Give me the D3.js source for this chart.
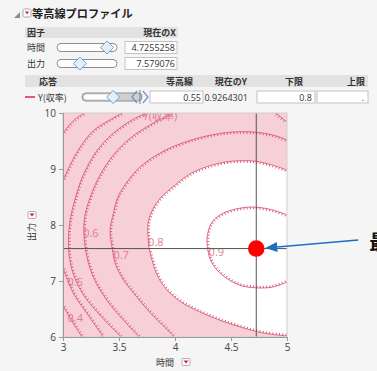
<!DOCTYPE html>
<html><head><meta charset="utf-8">
<script src="https://cdn.jsdelivr.net/npm/d3@7"></script>
<style>
html,body{margin:0;padding:0;background:#f5f5f5;}
svg{display:block;font-family:"Noto Sans CJK JP","Open Sans",sans-serif;}
</style></head><body>
<svg id="chart" width="377" height="371"></svg>
<script>
// ---- factor table ----
const factorNames = ["時間", "出力"];
const factorValues = [4.7255258, 7.579076];
const factorDomains = [[3, 5], [6, 10]];

// ---- response table ----
const responseHeaders = ["応答", "等高線", "現在のY", "下限", "上限"];
const responseName = "Y(収率)";
const contourValue = 0.55;
const currentY = 0.9264301;
const lowerLimit = 0.8;
const upperLimitText = ".";
const responseRange = [0.26, 0.875];

// ---- axes ----
const xTicks = [3, 3.5, 4, 4.5, 5];
const yTicks = [6, 7, 8, 9, 10];
const xDomain = [3, 5];
const yDomain = [6, 10];

// ---- contour lines, points as [時間, 出力] ----
const c040a = [[3.19,10.0],[3.09,9.86],[3.00,9.64]];
const c040b = [[3.00,6.55],[3.09,6.25],[3.17,6.00]];
const c050a = [[3.53,10.0],[3.42,9.88],[3.27,9.68],[3.13,9.32],[3.00,8.80]];
const c050b = [[3.00,7.23],[3.09,6.79],[3.21,6.43],[3.36,6.00]];
const c055  = [[3.75,10.0],[3.62,9.88],[3.45,9.64],[3.30,9.32],[3.18,8.89],[3.11,8.48],[3.06,8.04],[3.05,7.57],[3.08,7.20],[3.17,6.79],[3.33,6.39],[3.52,6.00]];
const c060a = [[3.98,10.0],[3.78,9.79],[3.60,9.55],[3.45,9.25],[3.33,8.89],[3.24,8.48],[3.19,8.09],[3.20,7.57],[3.27,7.07],[3.39,6.66],[3.54,6.30],[3.68,6.00]];
const c060b = [[4.90,10.0],[5.00,9.84]];
const c070  = [[5.00,9.52],[4.87,9.61],[4.71,9.66],[4.51,9.66],[4.33,9.61],[4.15,9.52],[3.97,9.39],[3.82,9.23],[3.69,9.04],[3.58,8.79],[3.49,8.50],[3.45,8.21],[3.42,7.91],[3.44,7.57],[3.47,7.29],[3.54,7.02],[3.66,6.71],[3.78,6.43],[3.93,6.13],[3.99,6.00]];
const c080  = [[5.00,8.98],[4.87,9.07],[4.71,9.14],[4.51,9.14],[4.33,9.07],[4.15,8.93],[4.00,8.71],[3.87,8.48],[3.80,8.27],[3.76,8.04],[3.76,7.77],[3.77,7.57],[3.80,7.34],[3.84,7.11],[3.92,6.86],[4.05,6.63],[4.22,6.45],[4.40,6.30],[4.58,6.18],[4.79,6.07],[5.00,6.02]];
const c090  = [[5.00,8.18],[4.87,8.27],[4.71,8.32],[4.58,8.30],[4.43,8.21],[4.33,8.05],[4.29,7.82],[4.29,7.59],[4.33,7.32],[4.42,7.11],[4.57,6.93],[4.71,6.88],[4.87,6.89],[5.00,6.98]];

const contourLevels = [0.4, 0.5, 0.55, 0.6, 0.7, 0.8, 0.9];
const contourSegments = [[c040a, c040b], [c050a, c050b], [c055], [c060a, c060b], [c070], [c080], [c090]];
// label anchors [時間, 出力]
const labelTexts = ["0.4", "0.5", "Y(収率)", "0.6", "0.7", "0.8", "0.9"];
const labelAnchors = [[3.04, 6.34], [3.04, 6.98], [3.71, 9.95], [3.18, 7.86], [3.45, 7.46], [3.76, 7.70], [4.30, 7.52]];

const optimumLabel = "最適条件";

// ---------------------------------------------------------------
const svg = d3.select("#chart");
const W = 377, H = 371;
svg.append("rect").attr("width", W).attr("height", H).attr("fill", "#f5f5f5");

const fmt = d3.format("");
const numFont = "'Open Sans','DejaVu Sans',sans-serif";

// ---- title bar ----
svg.append("path").attr("d", "M14,18 L20,12 L20,18 Z").attr("fill", "#8c8c8c");
svg.append("rect").attr("x", 23).attr("y", 9).attr("width", 8).attr("height", 8).attr("rx", 1.5)
  .attr("fill", "#fff").attr("stroke", "#a9a9a9");
svg.append("path").attr("d", "M25,11.5 L29,11.5 L27,14.5 Z").attr("fill", "#d9232e");
svg.append("text").attr("x", 32).attr("y", 18).attr("font-size", 11.2).attr("font-weight", "bold")
  .attr("fill", "#222").text("等高線プロファイル");

// ---- factor table ----
svg.append("rect").attr("x", 25).attr("y", 27).attr("width", 153).attr("height", 11).attr("fill", "#e2e2e2");
svg.append("text").attr("x", 27).attr("y", 36).attr("font-size", 9).attr("font-weight", "bold").attr("fill", "#333").text("因子");
svg.append("text").attr("x", 176).attr("y", 36).attr("font-size", 9).attr("font-weight", "bold")
  .attr("text-anchor", "end").attr("fill", "#333").text("現在のX");

const diamond = (cx, cy, r) => `M${cx - r},${cy} L${cx},${cy - r} L${cx + r},${cy} L${cx},${cy + r} Z`;

factorNames.forEach((name, i) => {
  const cy = 47.5 + i * 16;
  svg.append("text").attr("x", 27).attr("y", cy + 3.5).attr("font-size", 9).attr("fill", "#333").text(name);
  svg.append("rect").attr("x", 57).attr("y", cy - 4).attr("width", 60).attr("height", 8).attr("rx", 4)
    .attr("fill", "#fff").attr("stroke", "#8e8e8e");
  const s = d3.scaleLinear().domain(factorDomains[i]).range([57, 115]);
  svg.append("path").attr("d", diamond(s(factorValues[i]), cy, 6.5))
    .attr("fill", "#e3eef9").attr("stroke", "#7c9cc2");
  svg.append("rect").attr("x", 125).attr("y", cy - 6).attr("width", 52).attr("height", 12)
    .attr("fill", "#fff").attr("stroke", "#c3c3c3");
  svg.append("text").attr("x", 175).attr("y", cy + 3.5).attr("font-size", 9).attr("font-family", numFont)
    .attr("text-anchor", "end").attr("fill", "#333").text(fmt(factorValues[i]));
});

// ---- response table ----
svg.append("rect").attr("x", 25).attr("y", 75).attr("width", 343).attr("height", 12).attr("fill", "#e2e2e2");
const headerX = [[48, "middle"], [193, "end"], [247, "end"], [303, "end"], [365, "end"]];
responseHeaders.forEach((h, i) => {
  svg.append("text").attr("x", headerX[i][0]).attr("y", 84.5).attr("font-size", 9).attr("font-weight", "bold")
    .attr("text-anchor", headerX[i][1]).attr("fill", "#333").text(h);
});
const ry = 97;
svg.append("line").attr("x1", 25).attr("x2", 35).attr("y1", ry).attr("y2", ry).attr("stroke", "#e05a70").attr("stroke-width", 2);
svg.append("text").attr("x", 38).attr("y", ry + 3.5).attr("font-size", 9).attr("fill", "#333").text(responseName);
const rs = d3.scaleLinear().domain(responseRange).range([82, 148]);
svg.append("rect").attr("x", 82).attr("y", ry - 4).attr("width", 60).attr("height", 8).attr("rx", 4)
  .attr("fill", "#d0d0d0").attr("stroke", "#8e8e8e");
svg.append("rect").attr("x", 84).attr("y", ry - 2.5).attr("width", rs(contourValue) - 84).attr("height", 5).attr("rx", 2.5)
  .attr("fill", "#fff");
svg.append("path").attr("d", diamond(rs(contourValue), ry, 6.5)).attr("fill", "#e3eef9").attr("stroke", "#7c9cc2");
const lx = rs(lowerLimit);
svg.append("path").attr("d", `M${lx - 3},${ry - 6} L${lx - 8},${ry} L${lx - 3},${ry + 6} M${lx},${ry - 7} L${lx},${ry + 7} M${lx + 3},${ry - 6} L${lx + 8},${ry} L${lx + 3},${ry + 6}`)
  .attr("fill", "none").attr("stroke", "#6f93c4").attr("stroke-width", 1.2);
svg.append("rect").attr("x", 150).attr("y", ry - 6).attr("width", 53).attr("height", 12).attr("fill", "#fff").attr("stroke", "#c3c3c3");
svg.append("text").attr("x", 201).attr("y", ry + 3.5).attr("font-size", 9).attr("font-family", numFont)
  .attr("text-anchor", "end").attr("fill", "#333").text(fmt(contourValue));
svg.append("text").attr("x", 248).attr("y", ry + 3.5).attr("font-size", 9).attr("font-family", numFont)
  .attr("text-anchor", "end").attr("fill", "#333").text(fmt(currentY));
svg.append("rect").attr("x", 257).attr("y", ry - 6).attr("width", 58).attr("height", 12).attr("fill", "#fff").attr("stroke", "#c3c3c3");
svg.append("text").attr("x", 312).attr("y", ry + 3.5).attr("font-size", 9).attr("font-family", numFont)
  .attr("text-anchor", "end").attr("fill", "#333").text(fmt(lowerLimit));
svg.append("rect").attr("x", 317).attr("y", ry - 6).attr("width", 51).attr("height", 12).attr("fill", "#fff").attr("stroke", "#c3c3c3");
svg.append("text").attr("x", 364).attr("y", ry + 3.5).attr("font-size", 9).attr("font-family", numFont)
  .attr("text-anchor", "end").attr("fill", "#333").text(upperLimitText);

// ---- contour plot ----
const plot = { left: 63, right: 287, top: 113, bottom: 337 };
const x = d3.scaleLinear().domain(xDomain).range([plot.left, plot.right]);
const y = d3.scaleLinear().domain(yDomain).range([plot.bottom, plot.top]);

svg.append("defs").append("clipPath").attr("id", "plotClip")
  .append("rect").attr("x", plot.left).attr("y", plot.top)
  .attr("width", plot.right - plot.left).attr("height", plot.bottom - plot.top);

const g = svg.append("g").attr("clip-path", "url(#plotClip)");
// region below the lower limit is shaded
g.append("rect").attr("x", plot.left).attr("y", plot.top)
  .attr("width", plot.right - plot.left).attr("height", plot.bottom - plot.top).attr("fill", "#f6cfd7");

const line = d3.line().x(d => x(d[0])).y(d => y(d[1])).curve(d3.curveCatmullRom.alpha(0.5));
const limitIdx = contourLevels.indexOf(lowerLimit);
g.append("path").attr("d", line(contourSegments[limitIdx][0]) + "Z").attr("fill", "#fff");

const lineColor = "#df6c85";
const centre = [x(factorValues[0]), y(factorValues[1])];
contourSegments.forEach(segs => {
  segs.forEach(seg => {
    const p = g.append("path").attr("d", line(seg)).attr("fill", "none")
      .attr("stroke", lineColor).attr("stroke-width", 1);
    const node = p.node();
    const L = node.getTotalLength();
    const ticks = [];
    for (let s = 1.5; s < L - 0.5; s += 3.3) {
      const a = node.getPointAtLength(Math.max(0, s - 0.6));
      const b = node.getPointAtLength(Math.min(L, s + 0.6));
      const m = node.getPointAtLength(s);
      let tx = b.x - a.x, ty = b.y - a.y;
      const len = Math.hypot(tx, ty) || 1;
      let nx = -ty / len, ny = tx / len;
      if (nx * (centre[0] - m.x) + ny * (centre[1] - m.y) < 0) { nx = -nx; ny = -ny; }
      ticks.push(`M${m.x},${m.y}L${m.x + nx * 2.2},${m.y + ny * 2.2}`);
    }
    g.append("path").attr("d", ticks.join("")).attr("stroke", "#d85a77").attr("stroke-width", 1).attr("fill", "none");
  });
});

labelTexts.forEach((t, i) => {
  g.append("text").attr("x", x(labelAnchors[i][0])).attr("y", y(labelAnchors[i][1]) + 4)
    .attr("font-size", 11).attr("font-family", numFont).attr("fill", "#e0738a").attr("opacity", 0.9).text(t);
});

// crosshair at current factor settings
g.append("line").attr("x1", plot.left).attr("x2", plot.right)
  .attr("y1", y(factorValues[1])).attr("y2", y(factorValues[1])).attr("stroke", "#555").attr("stroke-width", 1);
g.append("line").attr("x1", x(factorValues[0])).attr("x2", x(factorValues[0]))
  .attr("y1", plot.top).attr("y2", plot.bottom).attr("stroke", "#555").attr("stroke-width", 1);

// frame
svg.append("rect").attr("x", plot.left).attr("y", plot.top)
  .attr("width", plot.right - plot.left).attr("height", plot.bottom - plot.top)
  .attr("fill", "none").attr("stroke", "#cfcfcf");

// axes
const xAxis = svg.append("g").attr("transform", `translate(0,${plot.bottom})`)
  .call(d3.axisBottom(x).tickValues(xTicks).tickSize(4).tickFormat(d3.format("")));
const yAxis = svg.append("g").attr("transform", `translate(${plot.left},0)`)
  .call(d3.axisLeft(y).tickValues(yTicks).tickSize(4).tickFormat(d3.format("")));
[xAxis, yAxis].forEach(a => {
  a.select(".domain").attr("stroke", "#9a9a9a");
  a.selectAll(".tick line").attr("stroke", "#9a9a9a");
  a.selectAll(".tick text").attr("font-size", 10).attr("font-family", numFont).attr("fill", "#444");
});

// axis titles with menu markers
const menuMark = (cx, cy) => {
  svg.append("rect").attr("x", cx - 4).attr("y", cy - 3.5).attr("width", 8).attr("height", 7).attr("rx", 1)
    .attr("fill", "#fff").attr("stroke", "#b0b0b0");
  svg.append("path").attr("d", `M${cx - 2.5},${cy - 1.5} L${cx + 2.5},${cy - 1.5} L${cx},${cy + 1.5} Z`).attr("fill", "#d9232e");
};
svg.append("text").attr("x", 165).attr("y", 366).attr("font-size", 9).attr("text-anchor", "middle")
  .attr("fill", "#333").text(factorNames[0]);
menuMark(186, 362);
svg.append("text").attr("transform", "translate(35,232) rotate(-90)").attr("font-size", 9)
  .attr("text-anchor", "middle").attr("fill", "#333").text(factorNames[1]);
menuMark(32, 215);

// optimum marker
const ox = x(factorValues[0]), oy = y(factorValues[1]);
svg.append("circle").attr("cx", ox).attr("cy", oy).attr("r", 8.3).attr("fill", "#ff0000");

// call-out arrow
const tip = [ox + 9, oy - 0.5];
const tail = [tip[0] + 93, tip[1] - 8];
const ang = Math.atan2(tail[1] - tip[1], tail[0] - tip[0]);
const hl = 12, hw = 5;
const base = [tip[0] + hl * Math.cos(ang), tip[1] + hl * Math.sin(ang)];
svg.append("line").attr("x1", tail[0]).attr("y1", tail[1]).attr("x2", base[0]).attr("y2", base[1])
  .attr("stroke", "#1d6fc2").attr("stroke-width", 1.5);
svg.append("path").attr("d",
  `M${tip[0]},${tip[1]} L${base[0] - hw * Math.sin(ang)},${base[1] + hw * Math.cos(ang)} L${base[0] + hw * Math.sin(ang)},${base[1] - hw * Math.cos(ang)} Z`)
  .attr("fill", "#1d6fc2");
svg.append("text").attr("x", tail[0] + 11).attr("y", tail[1] + 10).attr("font-size", 20).attr("font-weight", "bold")
  .attr("fill", "#111").text(optimumLabel);
</script>
</body></html>
